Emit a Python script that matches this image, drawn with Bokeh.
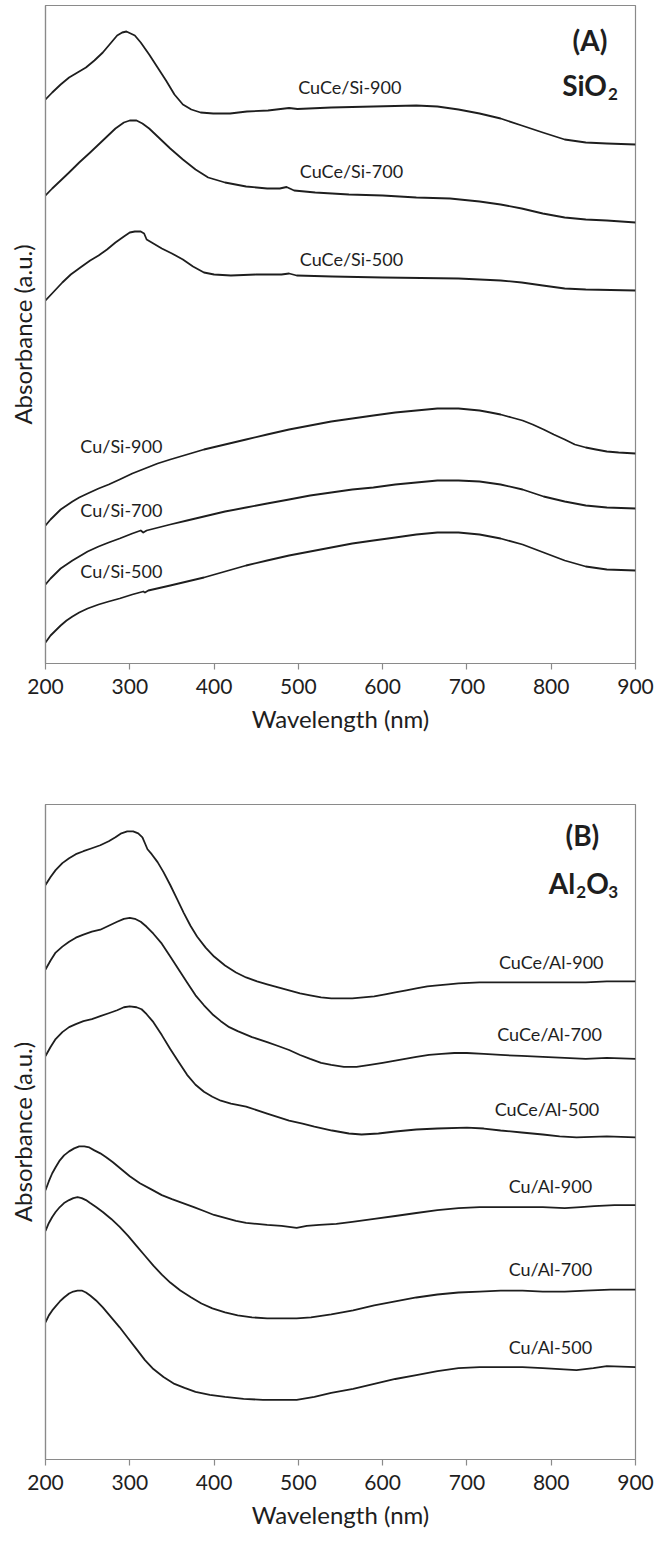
from bokeh.plotting import figure
from bokeh.layouts import column
from bokeh.models import Range1d, FixedTicker, ColumnDataSource
from bokeh.core.properties import value
from bokeh.embed import file_html
from bokeh.resources import INLINE

# ---------------- Panel (A) SiO2 ----------------
cuce_si_900_nm = [200, 208, 218, 228, 238, 248, 258, 268, 278, 285, 291, 296, 301, 306, 313, 323, 333, 343, 353, 363, 373, 384, 399, 419, 439, 464, 484, 489, 499, 539, 589, 640, 665, 690, 715, 740, 765, 790, 816, 841, 866, 900]
cuce_si_900_a = [5.64, 5.71, 5.79, 5.86, 5.91, 5.96, 6.03, 6.11, 6.21, 6.28, 6.31, 6.32, 6.30, 6.28, 6.21, 6.09, 5.96, 5.83, 5.69, 5.59, 5.54, 5.51, 5.50, 5.50, 5.52, 5.53, 5.55, 5.555, 5.545, 5.56, 5.57, 5.58, 5.57, 5.54, 5.50, 5.45, 5.38, 5.31, 5.24, 5.21, 5.20, 5.19]

cuce_si_700_nm = [200, 208, 218, 228, 240, 253, 263, 273, 283, 293, 300, 308, 315, 323, 333, 348, 363, 378, 393, 413, 438, 463, 478, 486, 495, 520, 560, 600, 640, 680, 715, 740, 765, 790, 816, 841, 866, 900]
cuce_si_700_a = [4.68, 4.75, 4.83, 4.91, 5.01, 5.11, 5.19, 5.27, 5.35, 5.41, 5.43, 5.43, 5.40, 5.35, 5.27, 5.15, 5.04, 4.94, 4.86, 4.81, 4.77, 4.75, 4.75, 4.765, 4.73, 4.71, 4.69, 4.68, 4.66, 4.65, 4.62, 4.59, 4.55, 4.50, 4.46, 4.44, 4.43, 4.41]

cuce_si_500_nm = [200, 210, 220, 230, 243, 253, 263, 273, 283, 293, 300, 306, 313, 317, 320, 328, 338, 350, 363, 375, 388, 400, 420, 450, 480, 489, 498, 540, 600, 690, 740, 765, 790, 816, 841, 900]
cuce_si_500_a = [3.63, 3.72, 3.81, 3.89, 3.97, 4.03, 4.08, 4.14, 4.21, 4.27, 4.31, 4.32, 4.32, 4.30, 4.24, 4.20, 4.15, 4.10, 4.04, 3.97, 3.91, 3.89, 3.88, 3.89, 3.89, 3.90, 3.88, 3.87, 3.86, 3.85, 3.83, 3.81, 3.78, 3.75, 3.74, 3.73]

cu_si_900_nm = [200, 206, 212, 218, 225, 232, 240, 250, 263, 275, 288, 303, 318, 333, 348, 368, 388, 413, 438, 463, 489, 514, 539, 564, 589, 615, 640, 665, 690, 715, 728, 740, 753, 766, 778, 791, 803, 816, 828, 841, 853, 866, 880, 900]
cu_si_900_a = [1.38, 1.44, 1.49, 1.54, 1.58, 1.62, 1.66, 1.70, 1.75, 1.79, 1.84, 1.90, 1.95, 2.00, 2.04, 2.09, 2.14, 2.19, 2.24, 2.29, 2.34, 2.38, 2.42, 2.45, 2.48, 2.51, 2.53, 2.55, 2.55, 2.53, 2.51, 2.49, 2.46, 2.43, 2.39, 2.34, 2.29, 2.24, 2.19, 2.16, 2.14, 2.12, 2.11, 2.10]

cu_si_700_nm = [200, 206, 212, 218, 225, 232, 240, 250, 263, 275, 288, 303, 313, 316, 320, 348, 368, 388, 413, 438, 463, 489, 514, 539, 564, 589, 615, 640, 665, 690, 715, 740, 766, 791, 816, 841, 866, 900]
cu_si_700_a = [0.79, 0.85, 0.90, 0.95, 0.99, 1.03, 1.07, 1.12, 1.17, 1.21, 1.25, 1.30, 1.33, 1.31, 1.33, 1.39, 1.43, 1.47, 1.52, 1.56, 1.60, 1.64, 1.68, 1.71, 1.74, 1.76, 1.79, 1.81, 1.83, 1.83, 1.82, 1.79, 1.74, 1.67, 1.62, 1.58, 1.56, 1.55]

cu_si_500_nm = [200, 206, 212, 218, 225, 232, 240, 250, 263, 275, 288, 303, 316, 318, 322, 348, 368, 388, 413, 438, 463, 489, 514, 539, 564, 589, 615, 640, 665, 690, 715, 740, 766, 791, 816, 841, 866, 900]
cu_si_500_a = [0.21, 0.28, 0.33, 0.38, 0.43, 0.47, 0.51, 0.55, 0.59, 0.62, 0.65, 0.69, 0.72, 0.71, 0.73, 0.78, 0.82, 0.86, 0.92, 0.98, 1.03, 1.08, 1.12, 1.16, 1.20, 1.23, 1.26, 1.29, 1.31, 1.31, 1.29, 1.25, 1.19, 1.11, 1.03, 0.97, 0.94, 0.93]

labels_a = ["CuCe/Si-900", "CuCe/Si-700", "CuCe/Si-500", "Cu/Si-900", "Cu/Si-700", "Cu/Si-500"]
labels_a_nm = [561, 563, 563, 290, 290, 290]
labels_a_y = [5.77, 4.93, 4.05, 2.18, 1.54, 0.93]

# ---------------- Panel (B) Al2O3 ----------------
cuce_al_900_nm = [200, 206, 212, 220, 228, 236, 245, 255, 265, 275, 283, 290, 297, 304, 310, 315, 318, 321, 326, 333, 340, 348, 356, 364, 372, 380, 390, 400, 413, 426, 438, 451, 463, 476, 489, 502, 514, 527, 539, 552, 564, 577, 590, 603, 615, 628, 640, 653, 665, 678, 690, 715, 740, 790, 841, 866, 900]
cuce_al_900_a = [5.78, 5.86, 5.93, 6.00, 6.05, 6.09, 6.12, 6.15, 6.18, 6.22, 6.26, 6.30, 6.32, 6.32, 6.30, 6.26, 6.20, 6.14, 6.09, 6.01, 5.91, 5.78, 5.64, 5.50, 5.37, 5.26, 5.15, 5.06, 4.97, 4.90, 4.85, 4.81, 4.78, 4.75, 4.72, 4.69, 4.67, 4.65, 4.64, 4.64, 4.64, 4.65, 4.66, 4.68, 4.70, 4.72, 4.74, 4.76, 4.77, 4.78, 4.79, 4.80, 4.80, 4.80, 4.80, 4.81, 4.81]

cuce_al_700_nm = [200, 206, 212, 220, 228, 236, 245, 255, 265, 275, 285, 293, 300, 306, 313, 320, 328, 338, 348, 358, 368, 378, 388, 398, 408, 418, 428, 445, 463, 476, 489, 502, 514, 527, 539, 554, 569, 585, 600, 620, 640, 655, 670, 685, 700, 720, 740, 765, 790, 816, 841, 866, 900]
cuce_al_700_a = [4.93, 5.02, 5.10, 5.16, 5.21, 5.25, 5.28, 5.31, 5.33, 5.37, 5.41, 5.44, 5.45, 5.44, 5.41, 5.36, 5.29, 5.19, 5.06, 4.93, 4.80, 4.67, 4.57, 4.48, 4.41, 4.35, 4.31, 4.25, 4.20, 4.16, 4.12, 4.07, 4.03, 3.99, 3.97, 3.95, 3.95, 3.97, 3.99, 4.02, 4.05, 4.07, 4.08, 4.09, 4.09, 4.08, 4.07, 4.06, 4.05, 4.04, 4.03, 4.04, 4.03]

cuce_al_500_nm = [200, 206, 212, 220, 228, 236, 245, 255, 265, 275, 285, 293, 300, 308, 314, 320, 328, 338, 348, 358, 368, 378, 388, 398, 408, 420, 438, 463, 489, 505, 519, 540, 560, 575, 595, 615, 640, 665, 700, 720, 740, 765, 790, 810, 830, 866, 900]
cuce_al_500_a = [4.06, 4.15, 4.23, 4.30, 4.35, 4.38, 4.41, 4.43, 4.46, 4.49, 4.52, 4.55, 4.56, 4.55, 4.53, 4.48, 4.40, 4.27, 4.13, 4.00, 3.87, 3.77, 3.70, 3.65, 3.61, 3.58, 3.55, 3.48, 3.41, 3.38, 3.35, 3.31, 3.28, 3.27, 3.28, 3.30, 3.32, 3.33, 3.34, 3.33, 3.31, 3.29, 3.27, 3.25, 3.24, 3.25, 3.24]

cu_al_900_nm = [200, 204, 208, 212, 217, 222, 228, 234, 240, 246, 252, 258, 265, 272, 280, 290, 300, 312, 325, 338, 350, 363, 376, 388, 400, 413, 426, 438, 451, 463, 480, 498, 510, 525, 545, 564, 590, 615, 640, 665, 690, 715, 740, 766, 790, 816, 835, 851, 875, 900]
cu_al_900_a = [2.71, 2.80, 2.88, 2.94, 3.01, 3.06, 3.10, 3.13, 3.15, 3.15, 3.14, 3.11, 3.08, 3.04, 2.99, 2.92, 2.85, 2.78, 2.72, 2.66, 2.62, 2.58, 2.54, 2.50, 2.46, 2.43, 2.40, 2.38, 2.37, 2.36, 2.35, 2.33, 2.35, 2.36, 2.37, 2.39, 2.42, 2.45, 2.48, 2.51, 2.53, 2.54, 2.54, 2.54, 2.54, 2.53, 2.54, 2.55, 2.56, 2.56]

cu_al_700_nm = [200, 204, 208, 212, 217, 222, 228, 233, 238, 243, 248, 253, 260, 268, 278, 288, 298, 308, 318, 328, 338, 348, 360, 373, 385, 398, 413, 428, 445, 463, 480, 498, 515, 539, 565, 590, 615, 640, 665, 690, 715, 740, 766, 790, 816, 841, 870, 900]
cu_al_700_a = [2.30, 2.38, 2.44, 2.49, 2.54, 2.58, 2.61, 2.63, 2.64, 2.63, 2.61, 2.58, 2.54, 2.49, 2.42, 2.34, 2.25, 2.15, 2.05, 1.95, 1.86, 1.78, 1.70, 1.63, 1.57, 1.52, 1.48, 1.45, 1.43, 1.42, 1.42, 1.42, 1.43, 1.46, 1.50, 1.55, 1.59, 1.63, 1.66, 1.68, 1.69, 1.70, 1.70, 1.69, 1.69, 1.70, 1.71, 1.71]

cu_al_500_nm = [200, 204, 208, 212, 217, 222, 228, 233, 238, 243, 248, 253, 260, 268, 278, 288, 298, 308, 318, 328, 340, 353, 365, 378, 395, 413, 435, 458, 478, 498, 519, 539, 565, 590, 615, 640, 665, 690, 715, 740, 766, 790, 810, 830, 850, 866, 900]
cu_al_500_a = [1.38, 1.45, 1.50, 1.54, 1.59, 1.63, 1.67, 1.69, 1.70, 1.70, 1.68, 1.65, 1.60, 1.53, 1.43, 1.33, 1.22, 1.11, 1.00, 0.91, 0.83, 0.76, 0.72, 0.68, 0.65, 0.63, 0.61, 0.60, 0.60, 0.60, 0.63, 0.67, 0.71, 0.76, 0.81, 0.85, 0.89, 0.92, 0.93, 0.93, 0.93, 0.92, 0.91, 0.90, 0.92, 0.94, 0.93]

labels_b = ["CuCe/Al-900", "CuCe/Al-700", "CuCe/Al-500", "Cu/Al-900", "Cu/Al-700", "Cu/Al-500"]
labels_b_nm = [800, 798, 795, 799, 799, 799]
labels_b_y = [5.01, 4.28, 3.53, 2.75, 1.92, 1.13]

x_ticks = [200, 300, 400, 500, 600, 700, 800, 900]

FONT = "Lato"
INK = "#1e1e1e"
FRAME = "#8a8a8a"


def make_panel(series, lab_text, lab_nm, lab_y, y_top, height, top, bottom):
    p = figure(width=654, height=height, output_backend="svg", toolbar_location=None,
               x_range=Range1d(200, 900), y_range=Range1d(0, y_top),
               min_border_left=45, min_border_right=19, min_border_top=top, min_border_bottom=bottom)
    p.background_fill_color = "white"
    p.border_fill_color = "white"
    p.outline_line_color = FRAME
    p.outline_line_width = 1.2
    p.grid.visible = False

    xa = p.xaxis[0]
    xa.ticker = FixedTicker(ticks=x_ticks)
    xa.axis_label = "Wavelength (nm)"
    xa.axis_label_text_font = FONT
    xa.axis_label_text_font_size = "24px"
    xa.axis_label_text_font_style = "normal"
    xa.axis_label_text_color = INK
    xa.axis_label_standoff = 7
    xa.major_label_text_font = FONT
    xa.major_label_text_font_size = "21px"
    xa.major_label_text_color = INK
    xa.major_label_standoff = 9
    xa.axis_line_color = FRAME
    xa.axis_line_width = 1.2
    xa.major_tick_line_color = FRAME
    xa.major_tick_line_width = 1.2
    xa.major_tick_in = 0
    xa.major_tick_out = 6
    xa.minor_tick_line_color = None

    ya = p.yaxis[0]
    ya.axis_label = "Absorbance (a.u.)"
    ya.axis_label_text_font = FONT
    ya.axis_label_text_font_size = "24px"
    ya.axis_label_text_font_style = "normal"
    ya.axis_label_text_color = INK
    ya.axis_label_standoff = 3
    ya.major_label_text_font_size = "0px"
    ya.major_tick_line_color = None
    ya.minor_tick_line_color = None
    ya.axis_line_color = FRAME
    ya.axis_line_width = 1.2

    for nm, a in series:
        p.line(nm, a, line_color=INK, line_width=1.8, line_join="round")

    src = ColumnDataSource(dict(x=lab_nm, y=lab_y, t=lab_text))
    p.text(x="x", y="y", text="t", source=src, text_font=value(FONT), text_font_size="18px",
           text_color=INK, text_align="center", text_baseline="middle")
    return p


pa = make_panel(
    [(cuce_si_900_nm, cuce_si_900_a), (cuce_si_700_nm, cuce_si_700_a), (cuce_si_500_nm, cuce_si_500_a),
     (cu_si_900_nm, cu_si_900_a), (cu_si_700_nm, cu_si_700_a), (cu_si_500_nm, cu_si_500_a)],
    labels_a, labels_a_nm, labels_a_y, 6.58, 755, 5, 92)

pb = make_panel(
    [(cuce_al_900_nm, cuce_al_900_a), (cuce_al_700_nm, cuce_al_700_a), (cuce_al_500_nm, cuce_al_500_a),
     (cu_al_900_nm, cu_al_900_a), (cu_al_700_nm, cu_al_700_a), (cu_al_500_nm, cu_al_500_a)],
    labels_b, labels_b_nm, labels_b_y, 6.59, 780, 49, 76)

bold = dict(text_font=value(FONT), text_font_style="bold", text_color=INK, text_baseline="middle")

# panel A heading
pa.text(x=[846], y=[6.24], text=["(A)"], text_font_size="28px", text_align="center", **bold)
pa.text(x=[846], y=[5.79], text=["SiO"], text_font_size="28px", text_align="right", x_offset=17, **bold)
pa.text(x=[846], y=[5.79], text=["2"], text_font_size="17px", text_align="left", x_offset=18, y_offset=9, **bold)

# panel B heading
pb.text(x=[837], y=[6.28], text=["(B)"], text_font_size="28px", text_align="center", **bold)
pb.text(x=[838], y=[5.80], text=["Al"], text_font_size="28px", text_align="right", x_offset=-8, **bold)
pb.text(x=[838], y=[5.80], text=["2"], text_font_size="17px", text_align="left", x_offset=-7, y_offset=9, **bold)
pb.text(x=[838], y=[5.80], text=["O"], text_font_size="28px", text_align="left", x_offset=3, **bold)
pb.text(x=[838], y=[5.80], text=["3"], text_font_size="17px", text_align="left", x_offset=25, y_offset=9, **bold)

layout = column(pa, pb, spacing=0)
open("out.html", "w").write(file_html(layout, INLINE))
